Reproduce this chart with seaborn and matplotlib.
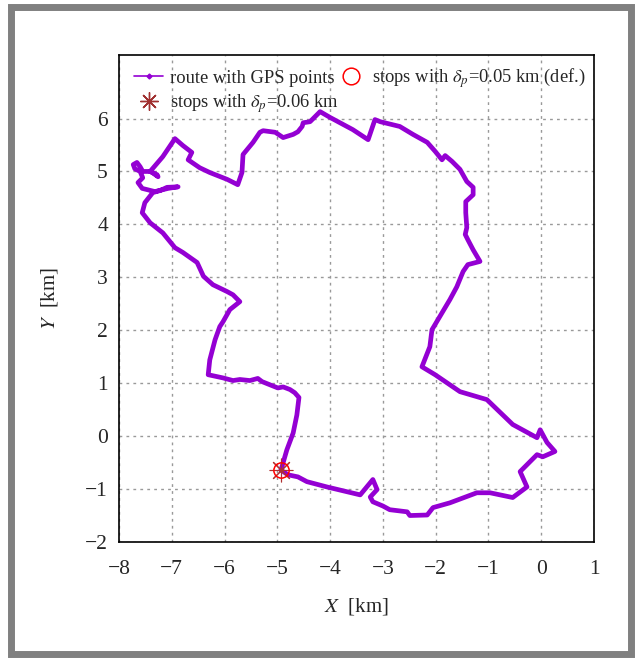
import matplotlib
matplotlib.use("Agg")
import matplotlib.pyplot as plt
import matplotlib.patches as mpatches
from matplotlib.lines import Line2D
import seaborn as sns
import pandas as pd

# Route (km), closed loop starting/ending at the stop
route_x = [-4.93, -4.82, -4.70, -4.63, -4.59, -4.67, -4.76, -4.89, -4.99, -5.14,
           -5.29, -5.37, -5.52, -5.71, -5.84, -6.03, -6.31, -6.28, -6.18, -6.09,
           -6.03, -5.90, -5.71, -5.84, -5.95, -6.22, -6.40, -6.52, -6.79, -6.94,
           -7.17, -7.41, -7.56, -7.51, -7.36, -7.22, -7.09, -6.88, -7.07, -7.32,
           -7.56, -7.64, -7.55, -7.60, -7.70, -7.73, -7.66, -7.60, -7.55, -7.41,
           -7.28, -7.26, -7.37, -7.41, -7.17, -6.94, -6.79, -6.62, -6.69, -6.47,
           -6.28, -5.95, -5.75, -5.67, -5.65, -5.46, -5.33, -5.27, -5.04, -4.89,
           -4.70, -4.61, -4.53, -4.51, -4.38, -4.19, -4.00, -3.57, -3.28, -3.15,
           -3.05, -2.68, -2.43, -2.16, -2.01, -1.88, -1.82, -1.69, -1.54, -1.41,
           -1.29, -1.29, -1.43, -1.43, -1.41, -1.44, -1.39, -1.29, -1.16, -1.39,
           -1.48, -1.60, -1.73, -1.82, -1.96, -2.07, -2.11, -2.26, -2.01, -1.54,
           -1.03, -0.54, -0.08, -0.02, 0.11, 0.26, 0.03, -0.08, -0.40, -0.27,
           -0.54, -0.97, -1.22, -1.73, -2.05, -2.16, -2.49, -2.54, -2.87, -3.00,
           -3.19, -3.24, -3.11, -3.19, -3.43, -4.06, -4.44, -4.61, -4.80, -4.93]
route_y = [-0.64, -0.26, 0.06, 0.40, 0.73, 0.82, 0.88, 0.93, 0.91, 0.97,
           1.03, 1.09, 1.05, 1.07, 1.05, 1.10, 1.16, 1.44, 1.82, 2.07,
           2.16, 2.39, 2.54, 2.67, 2.73, 2.86, 3.02, 3.28, 3.47, 3.56,
           3.84, 4.03, 4.22, 4.41, 4.60, 4.64, 4.70, 4.71, 4.68, 4.62,
           4.68, 4.79, 4.88, 5.00, 5.05, 5.13, 5.17, 5.09, 5.00, 5.00,
           4.94, 4.90, 4.98, 5.00, 5.28, 5.62, 5.49, 5.36, 5.22, 5.07,
           4.98, 4.85, 4.75, 4.98, 5.32, 5.55, 5.74, 5.77, 5.74, 5.64,
           5.70, 5.75, 5.85, 5.92, 5.94, 6.13, 6.02, 5.79, 5.60, 5.98,
           5.94, 5.85, 5.70, 5.55, 5.38, 5.22, 5.30, 5.19, 5.04, 4.81,
           4.70, 4.56, 4.43, 4.22, 3.94, 3.81, 3.71, 3.52, 3.30, 3.24,
           3.11, 2.82, 2.58, 2.43, 2.20, 2.01, 1.69, 1.31, 1.16, 0.84,
           0.69, 0.22, -0.03, 0.12, -0.12, -0.29, -0.39, -0.35, -0.67, -0.96,
           -1.16, -1.07, -1.07, -1.26, -1.35, -1.49, -1.50, -1.43, -1.39, -1.32,
           -1.24, -1.15, -1.01, -0.82, -1.11, -0.96, -0.86, -0.77, -0.73, -0.64]

stops005_x = [-4.93]
stops005_y = [-0.64]
stops006_x = [-4.93]
stops006_y = [-0.64]

x_ticks = [-8, -7, -6, -5, -4, -3, -2, -1, 0, 1]
y_ticks = [-2, -1, 0, 1, 2, 3, 4, 5, 6]

PURPLE = "#9400D3"

sns.set_style("white")
plt.rcParams["font.family"] = ["Liberation Serif", "DejaVu Serif"]
plt.rcParams["mathtext.fontset"] = "stix"

fig = plt.figure(figsize=(6.4, 6.59), dpi=100)
ax = fig.add_axes([119 / 640, 1 - 542 / 659, (594 - 119) / 640, (542 - 55) / 659])

df = pd.DataFrame({"x": route_x, "y": route_y})
sns.lineplot(data=df, x="x", y="y", sort=False, estimator=None, ax=ax,
             color=PURPLE, lw=3.4, solid_joinstyle="round", solid_capstyle="round",
             zorder=3)
ax.plot(stops006_x, stops006_y, linestyle="none", marker=(8, 2, 0), ms=17,
        mec="#B03030", mew=0.8, zorder=4)
ax.plot(stops005_x, stops005_y, linestyle="none", marker="o", ms=11,
        mfc="none", mec="red", mew=1.1, zorder=5)

ax.set_xlim(-8, 1)
ax.set_ylim(-2, 7.2)
ax.set_xticks(x_ticks)
ax.set_yticks(y_ticks)
ax.tick_params(axis="both", length=0, labelsize=15.5)
ax.tick_params(axis="x", pad=13)
ax.tick_params(axis="y", pad=8)
ax.grid(True, color="#999999", linestyle=(0, (2, 3)), lw=1.0)
for s in ax.spines.values():
    s.set_visible(True)
    s.set_color("black")
    s.set_linewidth(1.2)

ax.set_xlabel("$X$  [km]", fontsize=15, labelpad=12)
ax.set_ylabel("$Y$  [km]", fontsize=15, labelpad=18)

h_route = Line2D([], [], color=PURPLE, lw=1.2, marker="D", ms=2.5)
h_ast = Line2D([], [], color="#A03030", linestyle="none", marker=(8, 2, 0), ms=13, mew=1)
h_circ = Line2D([], [], color="red", linestyle="none", marker="o", ms=12, mfc="none", mew=1.1)
ax.legend([h_route, h_ast, h_circ],
          ["route with GPS points", "stops with $\\delta_p$=0.06 km",
           "stops with $\\delta_p$=0.05 km (def.)"],
          ncol=2, loc="upper left", bbox_to_anchor=(0.007, 1.0), frameon=False,
          fontsize=13.3, handlelength=1.6, handletextpad=0.35, columnspacing=-0.12,
          labelspacing=0.3, borderaxespad=0.22, numpoints=1)

fig.patches.append(mpatches.Rectangle((10.5 / 640, 1 - 653.5 / 659), 620 / 640, 647 / 659,
                                      transform=fig.transFigure, fill=False,
                                      edgecolor="#808080", lw=5.0))

fig.savefig("out.png", dpi=100)
